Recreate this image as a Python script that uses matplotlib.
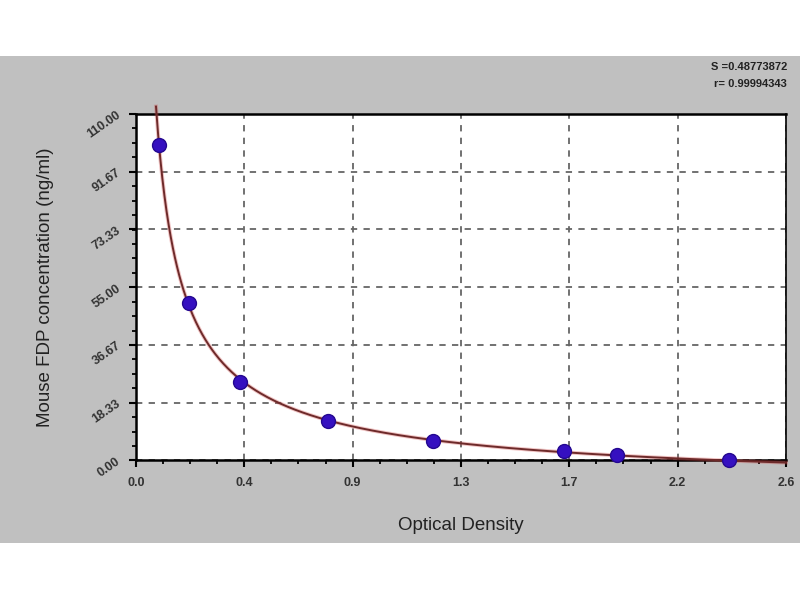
import numpy as np
import matplotlib
matplotlib.use("Agg")
import matplotlib.pyplot as plt
from matplotlib.patches import Rectangle
from matplotlib.ticker import FixedLocator, AutoMinorLocator

# Data
od = [0.092, 0.212, 0.416, 0.766, 1.188, 1.711, 1.922, 2.370]
conc = [100.0, 50.0, 25.0, 12.5, 6.25, 3.125, 1.5625, 0.0]

x_ticks = [0.0, 0.4333, 0.8667, 1.3, 1.7333, 2.1667, 2.6]
x_tick_labels = ["0.0", "0.4", "0.9", "1.3", "1.7", "2.2", "2.6"]
y_ticks = [0.0, 18.33, 36.67, 55.0, 73.33, 91.67, 110.0]
y_tick_labels = ["0.00", "18.33", "36.67", "55.00", "73.33", "91.67", "110.00"]
stats_text = ["S =0.48773872", "r= 0.99994343"]

# Fit y = A * x^-B + C to the standards (linear in A, C for each B)
xa = np.array(od)
ya = np.array(conc)
best = None
for B in np.linspace(0.3, 2.5, 441):
    M = np.column_stack([xa ** (-B), np.ones_like(xa)])
    coef, *_ = np.linalg.lstsq(M, ya, rcond=None)
    err = np.sum((M @ coef - ya) ** 2)
    if best is None or err < best[0]:
        best = (err, B, coef)
_, Bf, (Af, Cf) = best
xc = np.linspace(0.08, 2.6, 600)
yc = Af * xc ** (-Bf) + Cf
mask = yc <= 116
xc, yc = xc[mask], yc[mask]

plt.rcParams['font.family'] = ['Liberation Sans', 'DejaVu Sans']

fig = plt.figure(figsize=(8, 6), dpi=100)
fig.patch.set_facecolor("white")
fig.add_artist(Rectangle((0, 1 - 543 / 600), 1, (543 - 56) / 600,
                         transform=fig.transFigure, facecolor="#c0c0c0",
                         edgecolor="none", zorder=-10))

ax = fig.add_axes([136 / 800, 1 - 460.4 / 600, 650 / 800, 346.4 / 600])
ax.set_facecolor("white")
ax.set_xlim(0, 2.6)
ax.set_ylim(0, 110)

ax.xaxis.set_major_locator(FixedLocator(x_ticks))
ax.yaxis.set_major_locator(FixedLocator(y_ticks))
ax.set_xticklabels(x_tick_labels, fontweight="bold")
ax.set_yticklabels(y_tick_labels, rotation=35, ha="right", va="center",
                   rotation_mode="anchor", fontweight="bold")
ax.xaxis.set_minor_locator(AutoMinorLocator(4))
ax.yaxis.set_minor_locator(AutoMinorLocator(4))
ax.tick_params(axis="both", which="major", direction="out", length=5,
               width=1.5, labelsize=9, colors="black", labelcolor="#333333")
ax.tick_params(axis="both", which="minor", direction="out", length=3,
               width=1.3, colors="black")
ax.tick_params(axis="x", pad=7)
ax.tick_params(axis="y", pad=7)

for s in ["left", "bottom", "top"]:
    ax.spines[s].set_linewidth(1.8)
ax.spines["right"].set_linewidth(1.2)

ax.grid(True, which="major", linestyle=(0, (3.5, 3.5)), color="#666666",
        linewidth=1.3)
ax.set_axisbelow(True)

ax.plot(xc, yc, color="#d04040", linewidth=2.8, alpha=0.3, clip_on=False,
        zorder=3)
ax.plot(xc, yc, color="#6e2a2a", linewidth=1.4, clip_on=False, zorder=4)
ax.plot(od, conc, linestyle="none", marker="o", markersize=10,
        color="#3510c0", markeredgecolor="#240890", zorder=5, clip_on=False)

ax.set_xlabel("Optical Density", fontsize=13.5, color="#222222", labelpad=20)
ax.set_ylabel("Mouse FDP concentration (ng/ml)", fontsize=13.5,
              color="#222222", labelpad=22)

fig.text(787 / 800, 1 - 67 / 600, stats_text[0], ha="right", va="center",
         fontsize=8, color="#222222", fontweight="bold")
fig.text(787 / 800, 1 - 84 / 600, stats_text[1], ha="right", va="center",
         fontsize=8, color="#222222", fontweight="bold")

fig.savefig("out.png", dpi=100, facecolor=fig.get_facecolor())
